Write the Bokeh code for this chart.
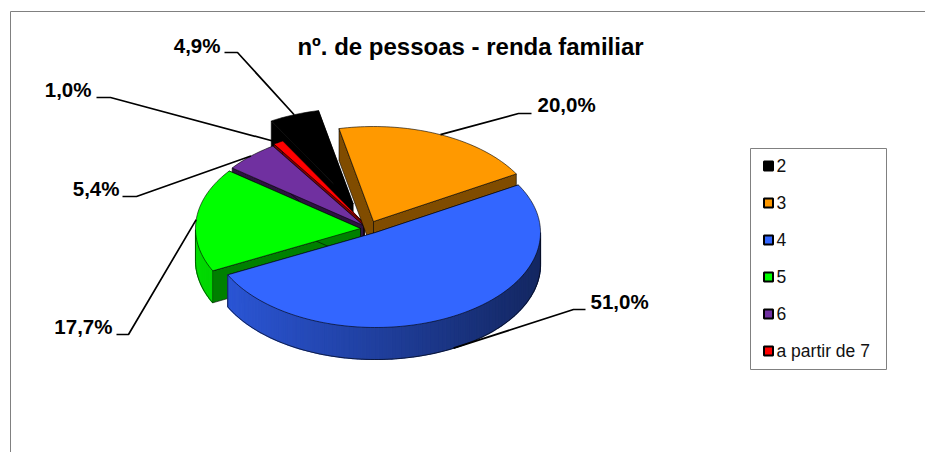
import math
from bokeh.plotting import figure
from bokeh.models import Range1d
from bokeh.core.properties import value
from bokeh.embed import file_html
from bokeh.resources import INLINE

# ---- data
title = "nº. de pessoas - renda familiar"
categories = ["2", "3", "4", "5", "6", "a partir de 7"]
percent = [4.9, 20.0, 51.0, 17.7, 5.4, 1.0]
colors = [(0, 0, 0), (255, 153, 0), (51, 102, 255), (0, 255, 0), (112, 48, 160), (255, 0, 0)]

# ---- layout of the 3-D pie, in window pixels
first_angle = 330.3
rx, ry, depth = 165.0, 95.0, 32.0
centres = [(352.5, 203), (373, 221), (375, 232), (360, 228), (363, 225), (364, 223)]
paint_order = [0, 5, 4, 3, 1, 2]
label_pos = [(220, 45), (537, 104), (590, 301), (112, 326), (119, 188), (91, 89)]
label_align = ["right", "left", "left", "right", "right", "right"]
elbow_from = [(224, 52), (531, 113), (585, 309), (116, 334), (122, 196), (96, 97)]
elbow_to = [(237, 52), (518, 113), (573, 309), (128, 334), (136, 196), (110, 97)]
text_font = value("Liberation Sans")

p = figure(width=925, height=452, x_range=Range1d(0, 925), y_range=Range1d(452, 0),
           output_backend="svg", toolbar_location=None, x_axis_location=None,
           y_axis_location=None, min_border=0, outline_line_color=None,
           background_fill_color="white", border_fill_color="white")
p.xgrid.visible = False
p.ygrid.visible = False


def rgb(c, f=1.0):
    return "#%02x%02x%02x" % tuple(int(round(v * f)) for v in c)


def rim(c, a):
    t = math.radians(a)
    return c[0] + rx * math.sin(t), c[1] - ry * math.cos(t)


# slice angles come from the values
bounds = []
a = first_angle
for v in percent:
    bounds.append((a, a + v * 3.6))
    a += v * 3.6

# chart frame
p.line([10, 10, 925], [452, 11, 11], line_color="#808080", line_width=1)

for i in paint_order:
    c, col, (a0, a1) = centres[i], colors[i], bounds[i]
    n = max(2, int((a1 - a0) / 1.5))
    angles = [a0 + (a1 - a0) * k / n for k in range(n + 1)]
    pts = [rim(c, t) for t in angles]
    cut = rgb(col, 0.5 if i != 4 else 0.4)
    # cut faces
    for q in (pts[0], pts[-1]):
        xs = [q[0], c[0], c[0], q[0]]
        ys = [q[1], c[1], c[1] + depth, q[1] + depth]
        p.patch(xs, ys, fill_color=cut, line_color="black", line_width=0.6)
    # outer wall, shaded strip by strip
    front = []
    for k in range(n):
        mid = (angles[k] + angles[k + 1]) / 2
        if math.cos(math.radians(mid)) < 0:
            q0, q1 = pts[k], pts[k + 1]
            shade = 0.62 - 0.24 * math.sin(math.radians(mid))
            fc = rgb(col, shade)
            p.patch([q0[0], q1[0], q1[0], q0[0]],
                    [q0[1], q1[1], q1[1] + depth, q0[1] + depth],
                    fill_color=fc, line_color=fc, line_width=1.2)
            front.append(k)
    if front:
        lo, hi = front[0], front[-1] + 1
        p.line([pts[j][0] for j in range(lo, hi + 1)],
               [pts[j][1] + depth for j in range(lo, hi + 1)],
               line_color="black", line_width=0.6)
        for j in (lo, hi):
            p.line([pts[j][0]] * 2, [pts[j][1], pts[j][1] + depth],
                   line_color="black", line_width=0.6)
    # top face
    p.patch([c[0]] + [q[0] for q in pts], [c[1]] + [q[1] for q in pts],
            fill_color=rgb(col), line_color="black", line_width=0.6)

# leader lines and value labels
for i, v in enumerate(percent):
    mid = sum(bounds[i]) / 2
    x, y = rim(centres[i], mid)
    if math.cos(math.radians(mid)) < 0:
        y += depth
    p.line([elbow_from[i][0], elbow_to[i][0], x], [elbow_from[i][1], elbow_to[i][1], y],
           line_color="black", line_width=1.7)
    p.text([label_pos[i][0]], [label_pos[i][1]], text=[f"{v:.1f}%".replace(".", ",")],
           text_font=text_font, text_font_style="bold", text_font_size="20.5px",
           text_align=label_align[i], text_baseline="middle", text_color="black")

p.text([470], [46], text=[title], text_font=text_font, text_font_style="bold",
       text_font_size="24px", text_align="center", text_baseline="middle", text_color="black")

# legend
p.quad(left=[750], right=[886], top=[148], bottom=[369], fill_color="white",
       line_color="#808080", line_width=1)
for i, name in enumerate(categories):
    y = 166 + 37 * i
    p.scatter([768], [y - 0.5], marker="square", size=9, fill_color=rgb(colors[i]),
              line_color="black", line_width=2)
    p.text([776], [y - 1], text=[name], text_font=text_font, text_font_size="17.5px",
           text_align="left", text_baseline="middle", text_color="#111111")

open("out.html", "w").write(file_html(p, INLINE))
